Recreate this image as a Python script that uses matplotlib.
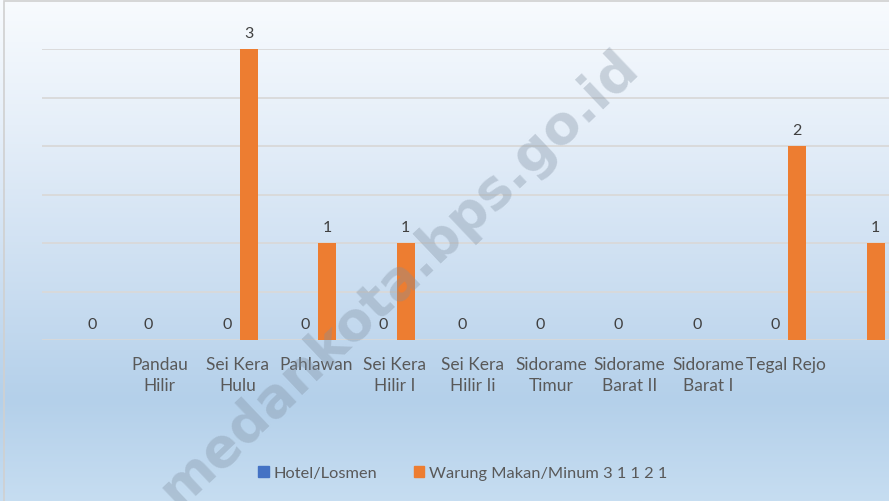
import matplotlib
matplotlib.use('Agg')
import matplotlib.pyplot as plt
import matplotlib.patches as mpatches
from matplotlib.colors import LinearSegmentedColormap
import numpy as np

# categories (first and last slot have no label in the source chart)
categories = ['', 'Pandau\nHilir', 'Sei Kera\nHulu', 'Pahlawan', 'Sei Kera\nHilir I',
              'Sei Kera\nHilir Ii', 'Sidorame\nTimur', 'Sidorame\nBarat II',
              'Sidorame\nBarat I', 'Tegal Rejo', '']
hotel = [None, 0, 0, 0, 0, 0, 0, 0, 0, 0, None]
warung = [0, None, 3, 1, 1, None, None, None, None, 2, 1]
series_names = ['Hotel/Losmen', 'Warung Makan/Minum 3 1 1 2 1']

BLUE = '#4472c4'
ORANGE = '#ed7d31'
TXT = '#595959'
plt.rcParams['font.family'] = ['Lato', 'DejaVu Sans']

fig = plt.figure(figsize=(8.89, 5.02), dpi=100)

# gradient background
bg = fig.add_axes([0, 0, 1, 1], zorder=0)
cmap = LinearSegmentedColormap.from_list('bg', [(0, '#f8fbfe'), (0.25, '#e6eff9'),
                                                (0.6, '#c8dcf0'), (0.8, '#b4d0ea'),
                                                (1, '#c6ddf1')])
grad = np.linspace(0, 1, 256).reshape(-1, 1)
bg.imshow(grad, aspect='auto', cmap=cmap, extent=[0, 1, 0, 1], origin='upper')
bg.add_patch(mpatches.Rectangle((4 / 889, -0.01), 1.1, 1 - 2 / 502 + 0.01, fill=False,
                                edgecolor='#d0d0d0', linewidth=1.2))
bg.set_xlim(0, 1)
bg.set_ylim(0, 1)
bg.axis('off')

ax = fig.add_axes([42 / 889, 1 - 341 / 502, 1 - 42 / 889, (341 - 50) / 502], zorder=1)
ax.patch.set_alpha(0)

x = np.arange(len(categories))
w = 0.23
off = 0.14
for i in x:
    if hotel[i] is not None:
        ax.bar(i - off, hotel[i], w, color=BLUE, zorder=3)
        ax.text(i - off, hotel[i] + 0.09, str(hotel[i]), ha='center', va='bottom',
                fontsize=11.5, color='#404040')
    if warung[i] is not None:
        ax.bar(i + off, warung[i], w, color=ORANGE, zorder=3)
        ax.text(i + off, warung[i] + 0.09, str(warung[i]), ha='center', va='bottom',
                fontsize=11.5, color='#404040', clip_on=False)

ax.set_xlim(-0.5, 10.31)
ax.set_ylim(0, 3)
ax.set_yticks(np.arange(0, 3.01, 0.5))
ax.yaxis.grid(True, color='#d9d9d9', linewidth=1.3, zorder=0)
ax.tick_params(left=False, labelleft=False, bottom=False)
for s in ax.spines.values():
    s.set_visible(False)
ax.set_xticks(x)
ax.set_xticklabels(categories, fontsize=12.5, color=TXT, linespacing=1.35)
ax.tick_params(axis='x', pad=8)

handles = [mpatches.Patch(color=BLUE, label=series_names[0]),
           mpatches.Patch(color=ORANGE, label=series_names[1])]
fig.legend(handles=handles, loc='center', bbox_to_anchor=(463 / 889, 1 - 474 / 502),
           ncol=2, frameon=False, fontsize=11.8, handlelength=0.65, handleheight=0.65,
           handletextpad=0.3, columnspacing=2.2, labelcolor=TXT)

# watermark
fig.text(612 / 889, 1 - 40 / 502, 'medankota.bps.go.id', rotation=43.5,
         rotation_mode='anchor', ha='right', va='top', fontsize=38.5,
         fontweight='bold', color='#7f8fa0', alpha=0.35, zorder=5,
         family='DejaVu Sans')

fig.savefig('out.png', dpi=100)
